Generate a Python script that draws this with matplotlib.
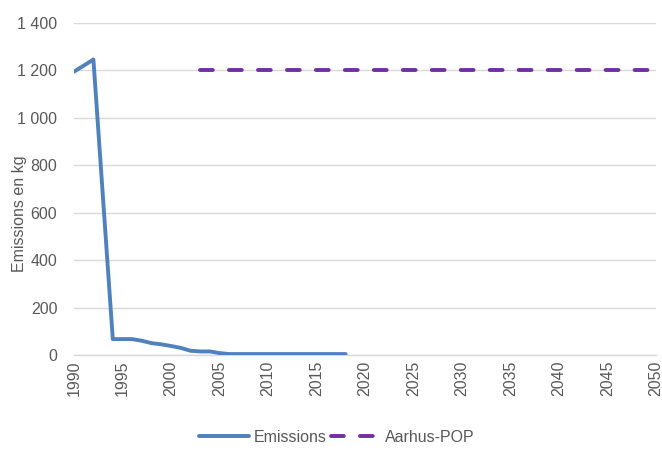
import matplotlib
matplotlib.use("Agg")
import matplotlib.pyplot as plt
from matplotlib.ticker import FuncFormatter, MultipleLocator

years = list(range(1990, 2019))
emissions = [1195, 1220, 1246, 656, 67, 67, 67, 60, 50, 45, 38, 30, 18, 15, 15,
             8, 4, 4, 4, 4, 4, 4, 4, 4, 4, 4, 4, 4, 4]
pop_years = list(range(2003, 2051))
pop_limit = [1200] * len(pop_years)

plt.rcParams['font.family'] = ['Liberation Sans', 'DejaVu Sans']
text_color = '#595959'
fs = 11.5

W, H = 662, 451
fig = plt.figure(figsize=(W / 100, H / 100), dpi=100)
x0, x1, y_top, y_bot = 74, 656, 23, 355
ax = fig.add_axes([x0 / W, 1 - y_bot / H, (x1 - x0) / W, (y_bot - y_top) / H])

ax.plot(years, emissions, color='#4F81BD', lw=2.8, solid_capstyle='round',
        solid_joinstyle='round', label='Emissions', zorder=3)
ax.plot(pop_years, pop_limit, color='#7030A0', lw=2.8, dashes=(3.3, 4.15),
        dash_capstyle='round', label='Aarhus-POP', zorder=3)

ax.set_xlim(1990, 2050)
ax.set_ylim(0, 1400)
ax.xaxis.set_major_locator(MultipleLocator(5))
ax.yaxis.set_major_locator(MultipleLocator(200))
ax.yaxis.set_major_formatter(FuncFormatter(lambda v, p: f"{int(v):,}".replace(",", " ")))
ax.grid(axis='y', color='#D9D9D9', lw=1)
ax.axhline(0, color='#D9D9D9', lw=1, zorder=1, clip_on=False)
ax.set_axisbelow(True)
for s in ax.spines.values():
    s.set_visible(False)
ax.tick_params(length=0, colors=text_color, labelsize=fs)
ax.tick_params(axis='x', rotation=90, pad=4)
ax.tick_params(axis='y', pad=12)
ax.set_ylabel('Emissions en kg', color=text_color, fontsize=fs)
ax.yaxis.set_label_coords((27 - x0) / (x1 - x0), (y_bot - 214) / (y_bot - y_top))

fig.legend(loc='center', bbox_to_anchor=(0.5 + 6 / W, 1 - 437 / H), ncol=2, frameon=False,
           fontsize=fs, labelcolor=text_color, handlelength=3.1, columnspacing=0.3,
           handletextpad=0.3)

fig.savefig('out.png', dpi=100)
